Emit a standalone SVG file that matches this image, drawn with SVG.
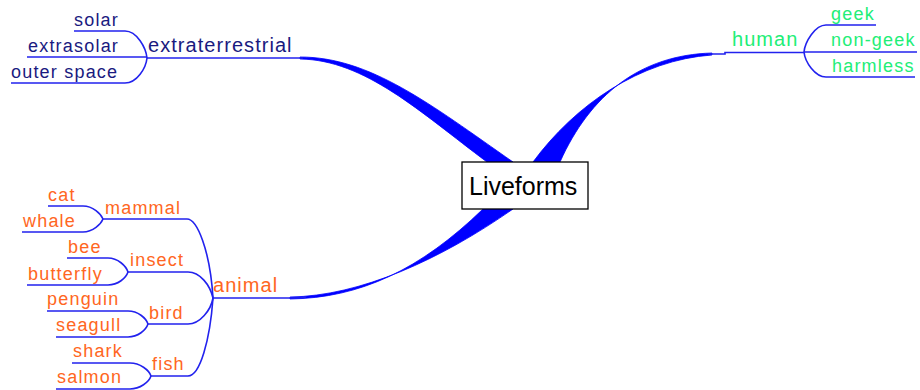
<svg xmlns="http://www.w3.org/2000/svg" width="920" height="390" viewBox="0 0 920 390">
<style>
text{font-family:"Liberation Sans",Arial,sans-serif;}
.l1{font-size:20px;letter-spacing:1.05px;}
.l2{font-size:18px;letter-spacing:1.2px;}
.et{fill:#1a1a80;}
.hu{fill:#22ee77;}
.an{fill:#ff6622;}
.ln{fill:none;stroke:#2222ee;stroke-width:1.6;}
.br{fill:#0000ff;stroke:#0000ff;stroke-width:0.8;}
.root rect{fill:#fff;stroke:#000;stroke-width:1.3;}
.root text{font-size:25px;fill:#000;}
</style>
<rect width="920" height="390" fill="#fff"/>
<g id="connectors">
<path class="br" d="M300,57 C370,57 430,104 513,162 L487,162 C420,112 365,60 300,59 Z"/>
<path class="br" d="M712,53 C640,55 590,95 560,162 L533,162 C575,105 640,60 712,55 Z"/>
<path class="br" d="M290,297 C360,296 440,260 513,209 L483,209 C420,270 360,298 290,299 Z"/>
<path class="ln" d="M147,58 H303"/>
<path class="ln" d="M74,31 H125 C137,31 146,48 147,58"/>
<path class="ln" d="M27,57 H147"/>
<path class="ln" d="M11,83 H125 C137,83 146,68 147,58"/>
<path class="ln" d="M708,54 H725 V52.5 H804"/>
<path class="ln" d="M876,25 H826 C815,25 805,42 804,52"/>
<path class="ln" d="M804,52 H917"/>
<path class="ln" d="M915,77 H826 C815,77 805,62 804,52"/>
<path class="ln" d="M213,298 H300 L306,297"/>
<path class="ln" d="M103,219 H187 C197,219 210,250 213,298"/>
<path class="ln" d="M48,206 H83 C93,206 101,214 103,219"/>
<path class="ln" d="M22,232 H83 C93,232 101,224 103,219"/>
<path class="ln" d="M128,272 H188 C200,272 210,285 213,298"/>
<path class="ln" d="M67,258 H108 C118,258 126,266 128,272"/>
<path class="ln" d="M27,285 H108 C118,285 126,278 128,272"/>
<path class="ln" d="M148,324 H188 C200,324 211,310 213,298"/>
<path class="ln" d="M47,311 H128 C138,311 146,318 148,324"/>
<path class="ln" d="M56,337 H128 C138,337 146,330 148,324"/>
<path class="ln" d="M151,376 H188 C200,376 210,340 213,298"/>
<path class="ln" d="M72,363 H130 C140,363 149,370 151,376"/>
<path class="ln" d="M56,389 H130 C140,389 149,382 151,376"/>
</g>
<g id="root" class="root"><rect x="462" y="162" width="126" height="47"/><text x="469" y="195">Liveforms</text></g>
<g id="extraterrestrial"><text class="l1 et" x="148" y="52">extraterrestrial</text></g>
<g id="solar"><text class="l2 et" x="74" y="26">solar</text></g>
<g id="extrasolar"><text class="l2 et" x="28" y="52">extrasolar</text></g>
<g id="outer-space"><text class="l2 et" x="11" y="78">outer space</text></g>
<g id="human"><text class="l1 hu" x="732" y="46">human</text></g>
<g id="geek"><text class="l2 hu" x="831" y="20">geek</text></g>
<g id="non-geek"><text class="l2 hu" x="831" y="46">non-geek</text></g>
<g id="harmless"><text class="l2 hu" x="832" y="72">harmless</text></g>
<g id="animal"><text class="l1 an" x="213" y="292">animal</text></g>
<g id="mammal"><text class="l2 an" x="105" y="214">mammal</text></g>
<g id="cat"><text class="l2 an" x="48" y="201">cat</text></g>
<g id="whale"><text class="l2 an" x="23" y="227">whale</text></g>
<g id="insect"><text class="l2 an" x="130" y="266">insect</text></g>
<g id="bee"><text class="l2 an" x="68" y="253">bee</text></g>
<g id="butterfly"><text class="l2 an" x="28" y="280">butterfly</text></g>
<g id="bird"><text class="l2 an" x="149" y="319">bird</text></g>
<g id="penguin"><text class="l2 an" x="47" y="305">penguin</text></g>
<g id="seagull"><text class="l2 an" x="56" y="331">seagull</text></g>
<g id="fish"><text class="l2 an" x="152" y="370">fish</text></g>
<g id="shark"><text class="l2 an" x="73" y="357">shark</text></g>
<g id="salmon"><text class="l2 an" x="57" y="383">salmon</text></g>
</svg>
